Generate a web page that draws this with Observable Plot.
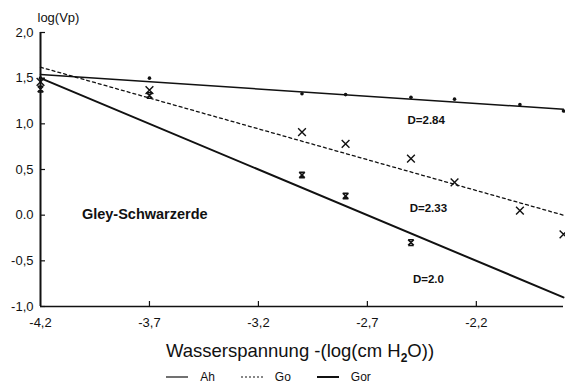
<!DOCTYPE html>
<html>
<head>
<meta charset="utf-8">
<script src="https://cdn.jsdelivr.net/npm/d3@7"></script>
<script src="https://cdn.jsdelivr.net/npm/@observablehq/plot@0.6"></script>
<style>
  html, body { margin: 0; padding: 0; background: #fff; }
  body { width: 565px; height: 386px; overflow: hidden; font-family: "Liberation Sans", Arial, sans-serif; }
  #legend { display: flex; justify-content: center; gap: 26px; font-size: 12px; height: 22px; align-items: center; margin-left: -28px; color: #111; }
  #legend span { display: inline-flex; align-items: center; gap: 12px; }
</style>
</head>
<body>
<div id="chart"></div>
<div id="legend"></div>
<script>
// Water tension (x) and log pore volume for the three horizons
const tension = [-4.2, -3.7, -3.0, -2.8, -2.5, -2.3, -2.0, -1.8];
const ahValues = [1.50, 1.50, 1.33, 1.32, 1.29, 1.27, 1.21, 1.14];
const goTension = [-4.2, -3.7, -3.0, -2.8, -2.5, -2.3, -2.0, -1.8];
const goValues = [1.46, 1.37, 0.91, 0.78, 0.62, 0.36, 0.05, -0.21];
const gorTension = [-4.2, -3.7, -3.0, -2.8, -2.5];
const gorValues = [1.38, 1.31, 0.44, 0.21, -0.30];

// Fitted lines (end points)
const fitX = [-4.2, -1.8];
const ahFit = [1.54, 1.16];
const goFit = [1.62, 0.0];
const gorFit = [1.50, -0.90];

// Fractal dimension labels
const dimText = ["D=2.84", "D=2.33", "D=2.0"];
const dimX = [-2.43, -2.42, -2.42];
const dimY = [1.04, 0.07, -0.70];

// Tick values and labels
const xTicks = [-4.2, -3.7, -3.2, -2.7, -2.2];
const xTickLabels = ["-4,2", "-3,7", "-3,2", "-2,7", "-2,2"];
const yTicks = [-1.0, -0.5, 0.0, 0.5, 1.0, 1.5, 2.0];
const yTickLabels = ["-1,0", "-0,5", "0.0", "0,5", "1,0", "1,5", "2,0"];

const seriesNames = ["Ah", "Go", "Gor"];

const pts = (xs, ys) => xs.map((x, i) => ({x, y: ys[i]}));
const ah = pts(tension, ahValues);
const go = pts(goTension, goValues);
const gor = pts(gorTension, gorValues);

// hourglass marker: a cross closed by bars at top and bottom
const hourglass = {
  draw(context, size) {
    const r = Math.sqrt(size) / 2;
    context.moveTo(-r, -r); context.lineTo(r, -r);
    context.moveTo(-r, r); context.lineTo(r, r);
    context.moveTo(-r, -r); context.lineTo(r, r);
    context.moveTo(r, -r); context.lineTo(-r, r);
  }
};

const fmt = (ticks, labels) => (d) => labels[ticks.findIndex(t => Math.abs(t - d) < 1e-9)];

const chart = Plot.plot({
  width: 565,
  height: 366,
  marginLeft: 40,
  marginRight: 2,
  marginTop: 32,
  marginBottom: 60,
  style: {fontFamily: "'Liberation Sans', Arial, sans-serif", fontSize: "13px", color: "#111", background: "#fff"},
  x: {domain: [-4.2, -1.8]},
  y: {domain: [-1, 2]},
  marks: [
    Plot.axisX({ticks: xTicks, tickFormat: fmt(xTicks, xTickLabels), tickSize: 0, tickPadding: 11, fontSize: 13, label: null}),
    Plot.tickX(xTicks.slice(1), {x: d => d, insetTop: 269, stroke: "#111", strokeWidth: 1.2}),
    Plot.axisY({ticks: yTicks, tickFormat: fmt(yTicks, yTickLabels), tickSize: 0, tickPadding: 7, fontSize: 13, label: null}),
    Plot.tickY(yTicks, {y: d => d, insetRight: 518, stroke: "#111", strokeWidth: 1.2}),
    Plot.ruleX([-4.2], {stroke: "#111", strokeWidth: 2}),
    Plot.ruleY([-1], {stroke: "#111", strokeWidth: 1.5}),
    // fitted lines
    Plot.line(pts(fitX, ahFit), {x: "x", y: "y", stroke: "#111", strokeWidth: 1.5}),
    Plot.line(pts(fitX, goFit), {x: "x", y: "y", stroke: "#111", strokeWidth: 1.3, strokeDasharray: "3,3"}),
    Plot.line(pts(fitX, gorFit), {x: "x", y: "y", stroke: "#111", strokeWidth: 2}),
    // measurements
    Plot.dot(ah, {x: "x", y: "y", r: 1.8, fill: "#111"}),
    Plot.dot(go, {x: "x", y: "y", symbol: "times", r: 3.6, stroke: "#111", strokeWidth: 1.4}),
    Plot.dot(gor, {x: "x", y: "y", symbol: hourglass, r: 3.2, stroke: "#111", strokeWidth: 1.5}),
    // annotations
    Plot.text(dimText, {x: (d, i) => dimX[i], y: (d, i) => dimY[i], text: d => d, fontWeight: "bold", fontSize: 11.5, fill: "#111"}),
    Plot.text(["Gley-Schwarzerde"], {x: -4.01, y: 0.01, text: d => d, textAnchor: "start", fontWeight: "bold", fontSize: 14.5, fill: "#111"}),
    Plot.text(["log(Vp)"], {x: -4.2, y: 2.0, text: d => d, textAnchor: "start", dx: -3, dy: -15, fontSize: 13, fill: "#111"})
  ]
});

// x-axis title with subscript
const svg = d3.select(chart);
const title = svg.append("text")
  .attr("x", 300).attr("y", 357)
  .attr("text-anchor", "middle")
  .attr("font-size", 18.5)
  .attr("fill", "#111");
title.append("tspan").text("Wasserspannung -(log(cm H");
title.append("tspan").attr("font-size", 12).attr("font-weight", "bold").attr("dy", 5).text("2");
title.append("tspan").attr("dy", -5).text("O))");

document.getElementById("chart").appendChild(chart);

// legend
const dashes = ["", "2,2", ""];
const widths = [1.2, 1.2, 2];
const legend = d3.select("#legend");
seriesNames.forEach((name, i) => {
  const item = legend.append("span");
  const s = item.append("svg").attr("width", 22).attr("height", 6);
  s.append("line").attr("x1", 0).attr("x2", 22).attr("y1", 3).attr("y2", 3)
    .attr("stroke", "#111").attr("stroke-width", widths[i])
    .attr("stroke-dasharray", dashes[i] || null);
  item.append("span").text(name);
});
</script>
</body>
</html>
